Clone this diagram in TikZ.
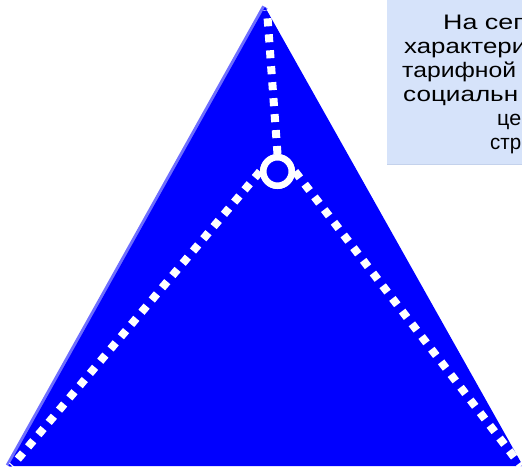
\documentclass[tikz,border=0pt]{standalone}
\usepackage{graphicx}
\usepackage{fontspec}
\setmainfont{Liberation Sans}
\definecolor{triblue}{RGB}{0,0,255}
\definecolor{edgeblue}{RGB}{110,110,255}
\definecolor{boxblue}{RGB}{214,227,250}
\definecolor{boxedge}{RGB}{196,210,236}
\begin{document}
\begin{tikzpicture}[x=1pt,y=1pt,
  dotline/.style={white, line width=8pt, dash pattern=on 8pt off 8pt},
  hub/.style={circle, draw=white, line width=6.5pt, fill=triblue, minimum size=28.5pt, inner sep=0pt},
  boxtext/.style={anchor=base west, inner sep=0pt, font=\fontsize{21}{24}\selectfont, text=black}]
\useasboundingbox (0,0) rectangle (522,466);
\clip (0,0) rectangle (522,466);
% triangle
\coordinate (apex) at (265,459);
\coordinate (bl) at (8.5,0);
\coordinate (br) at (523,0);
\draw[edgeblue, line width=6pt] (bl) -- (apex);
\fill[triblue] (bl) -- (apex) -- (br) -- cycle;
% hub and dotted connectors
\node[hub] (hub) at (277.5,294.5) {};
\coordinate (topend) at (267,456);
\coordinate (leftend) at (12,0);
\coordinate (rightend) at (521,0);
\draw[dotline] (hub.north) -- (topend);
\draw[dotline] (hub.west) -- (leftend);
\draw[dotline] (hub.east) -- (rightend);
\node[hub] (hubtop) at (hub) {};
% text box
\fill[boxblue] (387,301) rectangle (530,470);
\draw[boxedge, line width=1pt] (387,301.5) -- (530,301.5);
\node[boxtext] (t1) at (443,436) {\resizebox{80pt}{\height}{На сег}};
\node[boxtext] (t2) at (404,412) {\resizebox{122pt}{\height}{характери}};
\node[boxtext] (t3) at (402,388) {\resizebox{114pt}{\height}{тарифной}};
\node[boxtext] (t4) at (403,364) {\resizebox{115pt}{\height}{социальн}};
\node[boxtext] (t5) at (497,340) {\resizebox{24pt}{\height}{це}};
\node[boxtext] (t6) at (490,316) {\resizebox{31pt}{\height}{стр}};
\end{tikzpicture}
\end{document}
